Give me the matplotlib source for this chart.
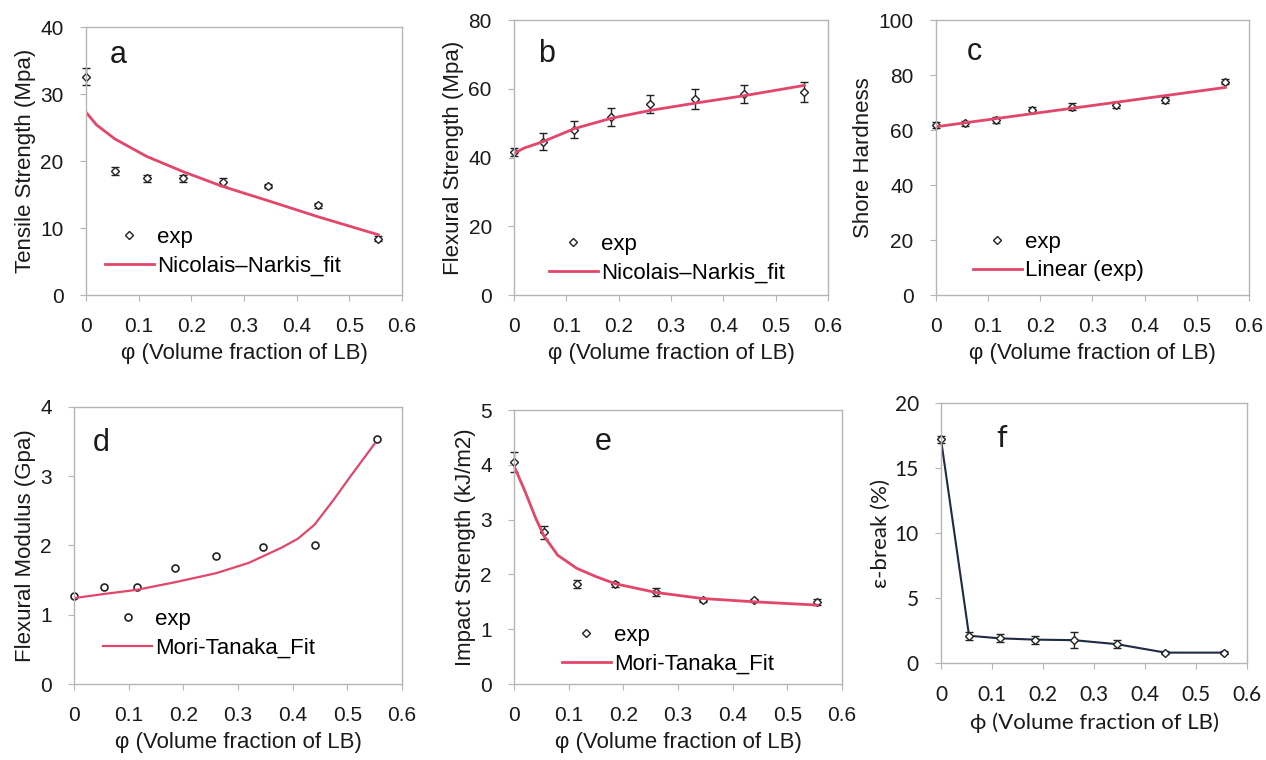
import matplotlib
matplotlib.use("Agg")
from matplotlib import pyplot as plt

# volume fraction of LB
phi = [0, 0.055, 0.115, 0.185, 0.26, 0.345, 0.44, 0.555]

# a: tensile strength
tensile = [32.6, 18.5, 17.4, 17.4, 16.9, 16.3, 13.4, 8.4]
tensile_err = [1.3, 0.6, 0.5, 0.5, 0.6, 0.3, 0.4, 0.4]
tensile_fit_x = [0, 0.02, 0.055, 0.115, 0.185, 0.26, 0.345, 0.44, 0.555]
tensile_fit = [27.3, 25.4, 23.3, 20.7, 18.4, 16.2, 14.1, 11.7, 9.0]

# b: flexural strength
flex_str = [41.7, 44.6, 48.1, 51.9, 55.6, 57.0, 58.4, 59.1]
flex_str_err = [1.2, 2.4, 2.5, 2.6, 2.7, 2.8, 2.6, 2.9]
flex_str_fit_x = [0, 0.02, 0.055, 0.115, 0.185, 0.26, 0.345, 0.44, 0.555]
flex_str_fit = [41.2, 42.8, 44.6, 48.4, 51.4, 53.7, 55.8, 58.0, 61.0]

# c: shore hardness
shore = [61.8, 62.4, 63.6, 67.3, 68.5, 69.1, 71.0, 77.6]
shore_err = [1.0, 1.0, 1.0, 1.0, 1.2, 1.0, 1.2, 1.0]
shore_fit_x = [0, 0.555]
shore_fit = [61.2, 75.5]

# d: flexural modulus
flex_mod = [1.27, 1.40, 1.40, 1.68, 1.85, 1.98, 2.00, 3.54]
flex_mod_fit_x = [0, 0.055, 0.115, 0.185, 0.26, 0.32, 0.38, 0.41, 0.44, 0.475, 0.505, 0.55]
flex_mod_fit = [1.24, 1.30, 1.36, 1.47, 1.60, 1.75, 1.97, 2.10, 2.30, 2.66, 2.99, 3.47]

# e: impact strength
impact = [4.05, 2.77, 1.82, 1.82, 1.68, 1.53, 1.53, 1.50]
impact_err = [0.18, 0.12, 0.07, 0.05, 0.08, 0.04, 0.03, 0.06]
impact_fit_x = [0, 0.02, 0.04, 0.055, 0.08, 0.115, 0.15, 0.185, 0.26, 0.345, 0.44, 0.555]
impact_fit = [3.98, 3.52, 3.02, 2.70, 2.35, 2.11, 1.96, 1.83, 1.67, 1.56, 1.50, 1.44]

# f: elongation at break
eps_break = [17.2, 2.1, 1.9, 1.8, 1.76, 1.45, 0.8, 0.8]
eps_err = [0.3, 0.3, 0.3, 0.3, 0.6, 0.3, 0.1, 0.1]

FIT = '#e2466a'
GRID = '#b5b5b5'
ARIAL = ['Liberation Sans', 'DejaVu Sans']
CALIBRI = ['Lato', 'DejaVu Sans']
xticks = [0, 0.1, 0.2, 0.3, 0.4, 0.5, 0.6]
xtick_labels = ['0', '0.1', '0.2', '0.3', '0.4', '0.5', '0.6']

fig = plt.figure(figsize=(12.66, 7.6), dpi=100)


def style(ax, ymax, ystep, ylabel, xlabel, letter, lx, ly, fam):
    ax.set_xlim(0, 0.6)
    ax.set_ylim(0, ymax)
    ax.set_xticks(xticks)
    ax.set_xticklabels(xtick_labels)
    yt = [i * ystep for i in range(int(round(ymax / ystep)) + 1)]
    ax.set_yticks(yt)
    ax.set_yticklabels([f'{v:g}' for v in yt])
    for s in ax.spines.values():
        s.set_color(GRID)
        s.set_linewidth(1.0)
    ax.tick_params(direction='out', length=4, color=GRID, pad=12,
                   labelsize=15, labelcolor='#1a1a1a')
    for lab in ax.get_xticklabels() + ax.get_yticklabels():
        lab.set_family(fam)
    ax.set_ylabel(ylabel, fontsize=16, family=fam, color='#1a1a1a', labelpad=3)
    ax.set_xlabel(xlabel, fontsize=16, family=fam, color='#1a1a1a', labelpad=5)
    ax.text(lx, ly, letter, transform=ax.transAxes, fontsize=22, family=fam,
            va='baseline', color='#1a1a1a')


def legend(ax, x, y):
    ax.legend(loc='lower left', bbox_to_anchor=(x, y), frameon=False,
              borderpad=0, handlelength=2.2, handletextpad=0.15,
              labelspacing=0.35, numpoints=1,
              prop={'family': ARIAL, 'size': 16})


xlab = 'φ (Volume fraction of LB)'

# a
ax = fig.add_axes([0.0679, 0.6118, 0.2496, 0.3526])
ax.errorbar(phi, tensile, yerr=tensile_err, fmt='none', ecolor='#222', elinewidth=1,
            capsize=3, clip_on=False)
ax.plot(phi, tensile, 'D', ms=4, mfc='white', mec='#222', mew=1, label='exp', clip_on=False)
ax.plot(tensile_fit_x, tensile_fit, color=FIT, lw=2, label='Nicolais–Narkis_fit')
style(ax, 40, 10, 'Tensile Strength (Mpa)', xlab, 'a', 0.075, 0.865, ARIAL)
legend(ax, 0.024, 0.028)

# b
ax = fig.add_axes([0.406, 0.6118, 0.248, 0.3618])
ax.errorbar(phi, flex_str, yerr=flex_str_err, fmt='none', ecolor='#222', elinewidth=1,
            capsize=3, clip_on=False)
ax.plot(phi, flex_str, 'D', ms=4, mfc='white', mec='#222', mew=1, label='exp', clip_on=False)
ax.plot(flex_str_fit_x, flex_str_fit, color=FIT, lw=2, label='Nicolais–Narkis_fit')
style(ax, 80, 20, 'Flexural Strength (Mpa)', xlab, 'b', 0.076, 0.847, ARIAL)
legend(ax, 0.076, 0.002)

# c
ax = fig.add_axes([0.7393, 0.6118, 0.2472, 0.3618])
ax.errorbar(phi, shore, yerr=shore_err, fmt='none', ecolor='#222', elinewidth=1,
            capsize=3, clip_on=False)
ax.plot(phi, shore, 'D', ms=4, mfc='white', mec='#222', mew=1, label='exp', clip_on=False)
ax.plot(shore_fit_x, shore_fit, color=FIT, lw=2, label='Linear (exp)')
style(ax, 100, 20, 'Shore Hardness', xlab, 'c', 0.1, 0.855, ARIAL)
legend(ax, 0.083, 0.009)

# d
ax = fig.add_axes([0.0585, 0.1, 0.259, 0.3645])
ax.plot(phi, flex_mod, 'o', ms=5, mfc='white', mec='#222', mew=1.2, label='exp', clip_on=False)
ax.plot(flex_mod_fit_x, flex_mod_fit, color=FIT, lw=1.6, label='Mori-Tanaka_Fit')
style(ax, 4, 1, 'Flexural Modulus (Gpa)', xlab, 'd', 0.058, 0.84, ARIAL)
legend(ax, 0.055, 0.05)

# e
ax = fig.add_axes([0.406, 0.1, 0.259, 0.3605])
ax.errorbar(phi, impact, yerr=impact_err, fmt='none', ecolor='#222', elinewidth=1,
            capsize=3, clip_on=False)
ax.plot(phi, impact, 'D', ms=4, mfc='white', mec='#222', mew=1, label='exp', clip_on=False)
ax.plot(impact_fit_x, impact_fit, color=FIT, lw=2, label='Mori-Tanaka_Fit')
style(ax, 5, 1, 'Impact Strength (kJ/m2)', xlab, 'e', 0.247, 0.854, ARIAL)
legend(ax, 0.112, -0.006)

# f
ax = fig.add_axes([0.7433, 0.1276, 0.2417, 0.342])
ax.errorbar(phi, eps_break, yerr=eps_err, fmt='-', color='#1f2a44', lw=1.5,
            ecolor='#222', elinewidth=1, capsize=3, marker='D', ms=4,
            mfc='white', mec='#222', mew=1, clip_on=False)
style(ax, 20, 5, 'ε-break (%)', 'ϕ (Volume fraction of LB)', 'f', 0.18, 0.83, CALIBRI)

fig.savefig('out.png', dpi=100)
